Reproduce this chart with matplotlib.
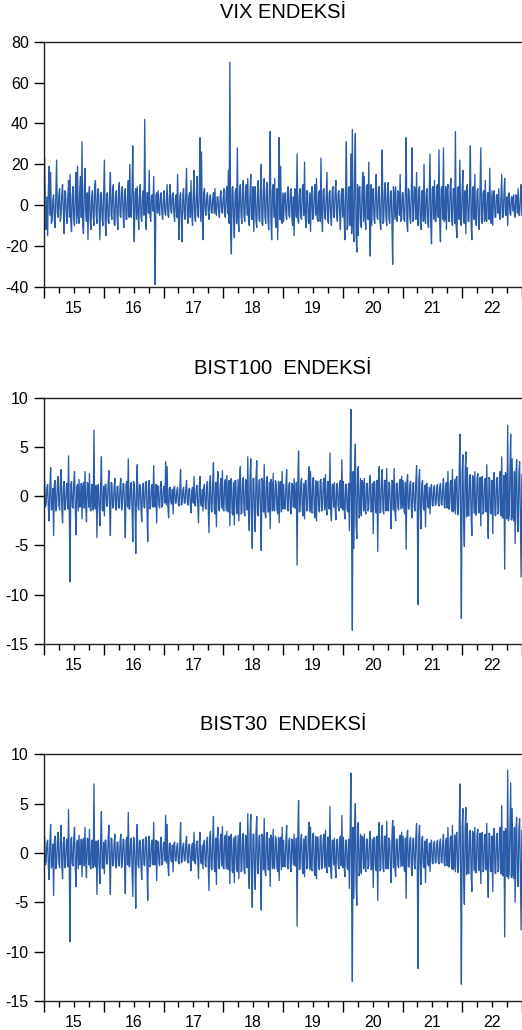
import matplotlib
matplotlib.use("Agg")
import matplotlib.pyplot as plt
import matplotlib.dates as mdates
import numpy as np
import pandas as pd


plt.rcParams["font.family"] = ["Liberation Sans", "DejaVu Sans"]

# daily % changes, one line per year 2015..2022 (40 values each).
# "*_peaks" holds the visible extremes, "*_core" the dense band between them.
vix_peaks = [
    23, -12, -15, 19, 16, -8, 5, -11, 22, -6, 8, -5, 10, -14, 6, -9, 12, 15, -13, 9, -10, 16, 19, -9, 14, 31, -14, 18, -8, -17, 9, -12, 7, -10, 12, -9, 8, -17, 6, -10,
    22, -15, 6, -9, 16, -7, 10, -10, 7, -12, 11, -6, 9, -11, 8, -7, 12, 20, -6, 29, -18, 8, 9, -12, 10, -8, 7, 42, -12, 6, 17, -8, 5, 14, -39, 6, 7, -5, 6, -7,
    7, -5, 10, -6, 10, -4, 6, -8, 5, 15, -17, 6, -18, 8, -7, 18, -9, 6, 12, -10, 17, -8, 14, -6, 33, 26, -17, 8, -5, 6, -7, 5, -4, 6, 8, -5, 4, -6, 7, -4,
    8, -6, 9, 17, 70, -24, 9, -16, 8, 28, -13, 10, -9, 12, -8, 10, 13, -10, 15, -7, -13, 9, -11, 12, -8, 20, -10, 13, -9, 11, -12, 36, -17, 10, 13, -11, -17, 33, 19, -9,
    -8, 6, -7, 9, -6, 8, -10, -15, 7, 25, -9, 8, -7, 10, 21, -11, 7, -9, -13, 9, -6, 10, 13, -8, 7, 23, -13, 8, -7, 16, -9, 7, -10, 9, -6, 12, -8, 7, -12, 8,
    8, -17, 31, -10, 9, 25, 37, -18, 35, -23, -15, 9, -11, 16, 14, -12, 10, 21, -25, -10, 8, -9, 15, -7, 9, -12, 27, -8, 11, -10, 11, -9, 7, -29, 6, 9, -8, 6, 15, -7,
    6, -8, 33, -13, 7, -9, 28, -7, 8, 16, -10, 9, -12, 7, 20, -9, 8, -11, 25, -19, 9, 12, -8, 10, 27, -18, 9, 28, -7, -12, 10, -8, 13, -10, 8, 36, -16, 9, 22, -10,
    17, -9, -14, 10, -8, 29, -17, 9, 15, -10, 8, -12, 28, -9, 7, 12, -8, 6, 18, -9, -10, 7, -6, 5, 8, -7, 15, -6, 13, -5, -10, 6, -5, 4, 5, -6, 4, 8, -5, 10,
]
vix_core = [
    -6, 4, 7, -5, -9, 3, -7, 6, -4, 5, -8, 6, -3, 7, -5, 4, -6, -8, 5, -7, 6, -9, -5, 8, -6, -10, 7, -4, 6, 5, -8, 4, -6, 9, -5, 7, -4, 6, -7, 5,
    -7, 5, -8, 6, -5, 7, -9, 4, -6, 8, -5, 7, -4, 6, -7, 5, -6, -4, 8, -5, 6, -7, -4, 5, -6, 4, -5, -3, 6, -4, -5, 4, -3, -6, 5, -4, -3, 5, -4, 3,
    -4, 3, -5, 4, -3, 5, -4, 3, -6, -5, 4, -7, 5, -4, 6, -5, 4, -6, -4, 5, -6, 4, -5, 7, -8, -5, 6, -3, 4, -3, 4, -3, 3, -4, -3, 4, -3, 4, -3, 3,
    -5, 6, -4, -9, -12, 8, -7, 6, -9, -6, 7, -5, 8, -6, 7, -5, -8, 6, -7, 9, 5, -8, 6, -7, 8, -9, 7, -6, 8, -7, 9, -8, 7, -6, -9, 8, 6, -7, -8, 6,
    5, -4, 6, -5, 7, -6, 4, 8, -6, -7, 5, -6, 8, -5, -6, 7, -8, 6, 5, -7, 6, -5, -7, 6, -8, -5, 7, -6, 5, -7, 6, -5, 7, -6, 8, -5, 6, -4, 5, -6,
    -6, 9, -12, 8, -10, -14, -9, 12, -15, 10, 8, -9, 7, -8, -6, 9, -7, -9, 10, 6, -7, 8, -6, 7, -8, 6, -9, 7, -6, 8, -7, 6, -8, 9, -7, -6, 7, -5, -8, 6,
    -7, 6, -9, 8, -6, 7, -8, 9, -7, -6, 8, -9, 7, -8, -7, 6, -9, 7, -10, 8, -7, -8, 9, -6, -9, 8, -7, -8, 9, 7, -8, 9, -7, 8, -9, -10, 8, -7, -9, 7,
    -8, 7, 9, -8, 7, -9, 8, -7, -8, 7, -9, 8, -7, 6, -8, -7, 6, -7, -6, 7, 5, -6, 5, -4, -5, 4, -6, 5, -5, 4, 5, -4, 4, -3, -4, 5, -4, -5, 4, -5,
]

bist100_peaks = [
    1.5, -0.8, 1.2, -2.5, 2.9, -1.2, -4.0, 1.6, -1.0, 2.0, -1.4, 2.7, -2.7, 1.5, -1.1, 1.3, 4.1, -8.7, 1.5, -1.2, 2.5, -3.9, 1.2, 1.7, -1.0, -2.3, 1.4, 2.5, -2.6, 1.3, 2.3, -1.5, 1.1, 6.7, -1.3, -4.2, 1.2, -3.0, 4.0, -1.5,
    -2.0, 1.2, -1.0, 2.6, -4.0, 1.3, -1.1, 1.8, -1.4, 1.0, -1.2, 1.8, -1.0, 1.2, -4.2, 1.5, 3.8, -1.3, 1.4, -4.6, 1.2, -5.8, 3.2, -1.4, 1.1, -2.6, 1.3, -1.2, 1.5, -4.6, 1.6, -1.0, 1.2, 3.1, -1.1, -2.7, 1.0, -1.2, 1.5, -0.9,
    1.0, 3.5, 3.0, -2.2, 0.9, -0.8, -1.8, 1.0, -0.7, 0.9, -1.0, 2.7, -0.8, 0.9, -0.7, 1.6, -0.9, 0.8, -1.7, 0.9, 2.0, -1.0, 1.1, -2.7, 2.0, -1.0, -1.5, 1.2, -1.3, 1.5, -3.7, 2.1, -1.6, 3.4, -1.8, -3.1, 2.5, -1.5, 1.8, 2.6,
    -1.5, 1.7, 2.1, -1.6, -3.0, 1.8, -1.9, -2.9, 1.6, -1.8, -2.5, 3.0, -1.7, 1.9, -2.0, 1.5, 4.0, -3.5, 3.8, -5.3, 1.8, -3.6, 3.6, -2.0, 1.7, -5.5, 1.5, 3.2, -2.2, 2.0, -1.6, -3.3, 1.4, 2.3, -1.5, 1.3, -1.8, -2.7, 1.5, 2.5,
    1.2, -1.3, 2.7, -1.5, 1.4, -1.8, 1.1, 1.8, -1.2, -7.0, 4.6, -1.5, 1.8, -2.0, -2.3, 1.6, -1.4, 3.0, 2.5, -1.7, 1.9, -2.2, -2.5, 1.5, -1.6, 1.7, -1.3, 1.8, 2.2, -1.9, 1.5, 4.4, -2.5, 1.2, 1.4, -2.4, 1.3, -1.5, 1.6, 3.7,
    1.5, -2.3, 1.2, -1.6, -3.5, 8.8, -13.6, -5.3, 5.3, -4.3, 3.0, -1.8, -2.0, 1.4, 1.8, -1.8, 1.3, -1.2, 2.1, -1.5, -3.8, 1.4, -1.7, -5.6, 3.0, -1.6, 2.7, -1.8, 1.6, 2.8, -1.5, 1.2, -3.3, 1.5, 2.8, -2.5, 1.3, -1.4, 1.7, 2.0,
    1.6, -1.8, -5.4, 2.2, -1.3, 1.5, -2.2, 1.4, -1.5, 3.1, -11.0, 2.7, -3.3, 1.6, -1.4, -3.1, 1.3, -1.2, -1.8, 1.2, -1.0, 1.1, -0.9, 1.2, -1.0, 1.3, -0.9, 1.8, -1.2, 1.4, 2.5, -1.3, 1.6, 2.7, -1.4, -1.8, 2.0, -1.7, 6.3, -12.4,
    4.2, -5.1, 4.5, 2.9, -2.0, 2.2, -4.0, 1.8, 2.5, -1.9, 2.3, -1.6, -3.0, 2.0, -1.5, 1.8, 3.2, -4.3, 1.7, -1.8, -3.8, 2.4, -2.0, 1.9, -1.6, 2.5, 4.0, -2.2, -7.4, 2.1, 7.2, -2.0, 6.3, 3.8, -2.5, -4.8, 3.7, -3.6, 3.5, -8.2,
]
bist100_core = [
    -1.1, 0.9, -1.3, 1.0, -1.4, 0.8, 1.2, -1.5, 1.1, -0.9, 1.3, -1.2, 0.9, -1.4, 1.0, -1.3, -1.6, 1.2, -1.0, 1.4, -1.2, 0.9, -1.5, -1.1, 1.3, 1.0, -1.2, -0.9, 1.4, -1.1, -1.3, 1.2, -1.4, -1.0, 1.1, 0.9, -1.3, 1.2, -1.4, 1.0,
    1.2, -1.0, 1.3, -1.1, 1.4, -1.2, 0.9, -1.3, 1.0, -1.2, 1.1, -1.4, 1.3, -0.9, 1.2, -1.1, -1.3, 1.0, -1.2, 1.5, -1.0, 1.3, -1.1, 1.2, -1.3, 1.0, -1.1, 1.4, -1.0, 1.2, -1.3, 0.9, -1.1, -1.0, 1.2, 1.1, -0.9, 1.0, -1.1, 0.8,
    -0.7, -0.9, -1.0, 0.8, -0.6, 0.7, 0.8, -0.7, 0.6, -0.8, 0.7, -0.9, 0.6, -0.7, 0.8, -0.6, 0.7, -0.8, 0.6, -0.7, -0.9, 0.8, -0.7, 0.9, -0.8, 0.7, 0.9, -1.1, 1.0, -1.2, 1.3, -1.4, 1.2, -1.3, 1.4, 1.2, -1.3, 1.1, -1.2, -1.4,
    1.4, -1.5, -1.3, 1.6, 1.5, -1.7, 1.4, 1.6, -1.5, 1.7, 1.4, -1.8, 1.5, -1.6, 1.7, -1.4, -1.8, 1.9, -2.0, 1.8, -1.6, 1.9, -1.7, 1.6, -1.5, 1.8, -1.6, -1.7, 1.5, -1.6, 1.4, 1.7, -1.5, -1.4, 1.6, -1.3, 1.5, 1.4, -1.6, -1.3,
    -1.2, 1.1, -1.3, 1.2, -1.4, 1.3, -1.1, -1.2, 1.4, 1.5, -1.6, 1.4, -1.5, 1.3, 1.6, -1.5, 1.7, -1.6, -1.5, 1.8, -1.7, 1.6, 1.5, -1.4, 1.6, -1.5, 1.3, -1.4, -1.2, 1.5, -1.3, -1.4, 1.2, -1.1, -1.3, 1.2, -1.0, 1.3, -1.2, -1.4,
    -1.3, 1.2, -1.4, 1.3, 1.5, -3.5, 2.5, 2.0, -3.0, 2.6, -2.2, 1.8, 1.6, -1.5, -1.4, 1.3, -1.5, 1.4, -1.6, 1.3, 1.5, -1.4, 1.6, 1.8, -1.7, 1.5, -1.4, 1.6, -1.5, -1.3, 1.4, -1.5, 1.6, -1.4, -1.5, 1.3, -1.2, 1.4, -1.3, -1.2,
    -1.2, 1.4, 1.5, -1.3, 1.2, -1.4, 1.3, -1.2, 1.4, -1.5, 1.6, -1.4, 1.3, -1.2, 1.1, 1.2, -1.0, 0.9, 0.8, -0.9, 0.8, -0.9, 0.8, -0.7, 0.9, -0.8, 0.9, -1.0, 1.1, -1.2, -1.3, 1.4, -1.5, -1.6, 1.7, 1.8, -1.9, 2.0, -2.2, 2.4,
    -2.3, 2.4, -2.1, -1.9, 2.0, -1.8, 2.1, -1.7, -1.9, 1.8, -1.7, 1.9, 1.6, -1.8, 1.7, -1.6, -1.8, 1.9, -1.7, 1.6, 1.8, -1.9, 1.7, -1.8, 1.9, -2.0, -2.2, 2.1, 2.4, -2.3, -2.5, 2.6, -2.4, -2.2, 2.5, 2.3, -2.6, 2.4, -2.5, 2.2,
]

bist30_peaks = [
    1.6, -0.9, 1.3, -2.7, 2.9, -1.3, -4.3, 1.7, -1.1, 2.1, -1.5, 2.8, -2.6, 1.6, -1.2, 1.4, 4.4, -9.0, 1.6, -1.3, 2.6, -3.4, 1.3, 1.8, -1.1, -2.4, 1.5, 2.6, -2.5, 1.4, 2.4, -1.6, 1.2, 7.0, -1.4, -4.2, 1.3, -3.1, 4.2, -1.6,
    -2.1, 1.3, -1.1, 2.8, -4.2, 1.4, -1.2, 1.9, -1.5, 1.1, -1.3, 1.9, -1.1, 1.3, -4.1, 1.6, 4.1, -1.4, 1.5, -4.4, 1.3, -5.6, 2.9, -1.5, 1.2, -2.7, 1.4, -1.3, 1.6, -4.8, 1.7, -1.1, 1.3, 3.1, -1.2, -2.8, 1.1, -1.3, 1.6, -1.0,
    1.1, 3.8, 2.9, -2.3, 1.0, -0.9, -1.9, 1.1, -0.8, 1.0, -1.1, 3.1, -0.9, 1.0, -0.8, 1.7, -1.0, 0.9, -1.8, 1.0, 2.1, -1.1, 1.2, -2.6, 2.1, -1.1, -1.6, 1.3, -1.4, 1.6, -3.8, 2.2, -1.7, 3.7, -1.9, -3.2, 2.6, -1.6, 1.9, 2.7,
    -1.6, 1.8, 2.2, -1.7, -3.1, 1.9, -2.0, -3.0, 1.7, -1.9, -2.6, 3.1, -1.8, 2.0, -2.1, 1.6, 4.0, -3.6, 3.9, -5.5, 1.9, -3.7, 3.7, -2.1, 1.8, -5.8, 1.6, 3.5, -2.3, 2.1, -1.7, -3.4, 1.5, 2.4, -1.6, 1.4, -1.9, -2.8, 1.6, 2.6,
    1.3, -1.4, 2.8, -1.6, 1.5, -1.9, 1.2, 1.9, -1.3, -7.4, 5.3, -1.6, 1.9, -2.1, -2.4, 1.7, -1.5, 3.1, 2.6, -1.8, 2.0, -2.3, -2.6, 1.6, -1.7, 1.8, -1.4, 1.9, 2.3, -2.0, 1.6, 4.7, -2.6, 1.3, 1.5, -2.5, 1.4, -1.6, 1.7, 3.8,
    1.6, -2.4, 1.3, -1.7, -3.6, 8.1, -13.0, -4.6, 5.0, -5.3, 3.1, -1.9, -2.1, 1.5, 1.9, -1.9, 1.4, -1.3, 2.2, -1.6, -3.5, 1.5, -1.8, -4.8, 3.1, -1.7, 2.8, -1.9, 1.7, 3.2, -1.6, 1.3, -3.0, 3.3, 2.7, -2.4, 1.4, -1.5, 1.8, 2.1,
    1.7, -1.9, -4.6, 2.3, -1.4, 1.6, -2.3, 1.5, -1.6, 3.0, -11.7, 2.8, -3.2, 1.7, -1.5, -3.0, 1.4, -1.3, -1.9, 1.3, -1.1, 1.2, -1.0, 1.3, -1.1, 1.4, -1.0, 1.9, -1.3, 1.5, 2.6, -1.4, 1.7, 2.8, -1.5, -1.9, 2.1, -1.8, 7.0, -13.3,
    4.5, -5.2, 4.6, 3.0, -2.1, 2.3, -3.9, 1.9, 2.6, -2.0, 2.4, -1.7, -3.1, 2.1, -1.6, 1.9, 3.0, -4.5, 1.8, -1.9, -3.9, 2.5, -2.1, 2.0, -1.7, 2.6, 4.8, -2.3, -8.5, 2.2, 8.4, -2.1, 7.1, 4.5, -2.6, -5.0, 3.6, -3.4, 3.5, -7.8,
]
bist30_core = [
    -1.2, 1.0, -1.4, 1.1, -1.5, 0.9, 1.3, -1.6, 1.2, -1.0, 1.4, -1.3, 1.0, -1.5, 1.1, -1.4, -1.7, 1.3, -1.1, 1.5, -1.3, 1.0, -1.6, -1.2, 1.4, 1.1, -1.3, -1.0, 1.5, -1.2, -1.4, 1.3, -1.5, -1.1, 1.2, 1.0, -1.4, 1.3, -1.5, 1.1,
    1.3, -1.1, 1.4, -1.2, 1.5, -1.3, 1.0, -1.4, 1.1, -1.3, 1.2, -1.5, 1.4, -1.0, 1.3, -1.2, -1.4, 1.1, -1.3, 1.6, -1.1, 1.4, -1.2, 1.3, -1.4, 1.1, -1.2, 1.5, -1.1, 1.3, -1.4, 1.0, -1.2, -1.1, 1.3, 1.2, -1.0, 1.1, -1.2, 0.9,
    -0.8, -1.0, -1.1, 0.9, -0.7, 0.8, 0.9, -0.8, 0.7, -0.9, 0.8, -1.0, 0.7, -0.8, 0.9, -0.7, 0.8, -0.9, 0.7, -0.8, -1.0, 0.9, -0.8, 1.0, -0.9, 0.8, 1.0, -1.2, 1.1, -1.3, 1.4, -1.5, 1.3, -1.4, 1.5, 1.3, -1.4, 1.2, -1.3, -1.5,
    1.5, -1.6, -1.4, 1.7, 1.6, -1.8, 1.5, 1.7, -1.6, 1.8, 1.5, -1.9, 1.6, -1.7, 1.8, -1.5, -1.9, 2.0, -2.1, 1.9, -1.7, 2.0, -1.8, 1.7, -1.6, 1.9, -1.7, -1.8, 1.6, -1.7, 1.5, 1.8, -1.6, -1.5, 1.7, -1.4, 1.6, 1.5, -1.7, -1.4,
    -1.3, 1.2, -1.4, 1.3, -1.5, 1.4, -1.2, -1.3, 1.5, 1.6, -1.7, 1.5, -1.6, 1.4, 1.7, -1.6, 1.8, -1.7, -1.6, 1.9, -1.8, 1.7, 1.6, -1.5, 1.7, -1.6, 1.4, -1.5, -1.3, 1.6, -1.4, -1.5, 1.3, -1.2, -1.4, 1.3, -1.1, 1.4, -1.3, -1.5,
    -1.4, 1.3, -1.5, 1.4, 1.6, -3.7, 2.6, 2.1, -3.2, 2.7, -2.3, 1.9, 1.7, -1.6, -1.5, 1.4, -1.6, 1.5, -1.7, 1.4, 1.6, -1.5, 1.7, 1.9, -1.8, 1.6, -1.5, 1.7, -1.6, -1.4, 1.5, -1.6, 1.7, -1.5, -1.6, 1.4, -1.3, 1.5, -1.4, -1.3,
    -1.3, 1.5, 1.6, -1.4, 1.3, -1.5, 1.4, -1.3, 1.5, -1.6, 1.7, -1.5, 1.4, -1.3, 1.2, 1.3, -1.1, 1.0, 0.9, -1.0, 0.9, -1.0, 0.9, -0.8, 1.0, -0.9, 1.0, -1.1, 1.2, -1.3, -1.4, 1.5, -1.6, -1.7, 1.8, 1.9, -2.0, 2.1, -2.3, 2.5,
    -2.4, 2.5, -2.2, -2.0, 2.1, -1.9, 2.2, -1.8, -2.0, 1.9, -1.8, 2.0, 1.7, -1.9, 1.8, -1.7, -1.9, 2.0, -1.8, 1.7, 1.9, -2.0, 1.8, -1.9, 2.0, -2.1, -2.3, 2.2, 2.5, -2.4, -2.6, 2.7, -2.5, -2.3, 2.6, 2.4, -2.7, 2.5, -2.6, 2.3,
]

titles = ["VIX ENDEKSİ", "BIST100  ENDEKSİ", "BIST30  ENDEKSİ"]
y_limits = [(-40, 80), (-15, 10), (-15, 10)]
y_ticks = [[-40, -20, 0, 20, 40, 60, 80], [-15, -10, -5, 0, 5, 10], [-15, -10, -5, 0, 5, 10]]

LINE_COLOR = "#2a5caa"
W, H = 522, 1030

fig = plt.figure(figsize=(W / 100, H / 100), dpi=100)

# axes boxes in pixels: (top, bottom)
boxes = [(41.7, 286.7), (397.7, 644.0), (754.3, 1001.0)]
title_y = [13, 368, 725]
left_px = 44

panels = [(vix_peaks, vix_core), (bist100_peaks, bist100_core), (bist30_peaks, bist30_core)]

for (peaks, core), title, ylim, yt, (top, bottom), ty in zip(
    panels, titles, y_limits, y_ticks, boxes, title_y
):
    # peak and band readings alternate in time
    series = np.column_stack([peaks, core]).ravel()
    ax = fig.add_axes([left_px / W, 1 - bottom / H, (W + 2 - left_px) / W, (bottom - top) / H])
    dates = pd.date_range("2015-01-05", "2022-12-30", periods=len(series))
    ax.plot(dates, series, color=LINE_COLOR, linewidth=0.95)

    ax.set_xlim(pd.Timestamp("2015-01-01"), pd.Timestamp("2023-01-12"))
    ax.set_ylim(*ylim)
    ax.set_yticks(yt)
    ax.set_yticklabels([str(v) for v in yt])

    # long ticks on year boundaries, short ones on quarters, labels mid-year
    ax.xaxis.set_major_locator(mdates.YearLocator())
    ax.xaxis.set_major_formatter(plt.NullFormatter())
    ax.xaxis.set_minor_locator(mdates.MonthLocator(bymonth=[4, 7, 10]))
    ax.xaxis.set_minor_formatter(
        plt.FuncFormatter(lambda v, pos: mdates.num2date(v).strftime("%y") if mdates.num2date(v).month == 7 else "")
    )

    ax.tick_params(axis="x", which="major", length=8, width=1, direction="out")
    ax.tick_params(axis="x", which="minor", length=4, width=1, direction="out", pad=6, labelsize=11.5)
    ax.tick_params(axis="y", length=7, width=1, direction="out", pad=4, labelsize=11.5)

    ax.spines["right"].set_visible(False)
    for s in ["left", "bottom", "top"]:
        ax.spines[s].set_linewidth(1.0)
        ax.spines[s].set_color("#222222")

    fig.text(ax.get_position().x0 + 0.5 * (W - left_px) / W, 1 - ty / H, title,
             ha="center", va="center", fontsize=14.5)

fig.savefig("out.png", dpi=100)
